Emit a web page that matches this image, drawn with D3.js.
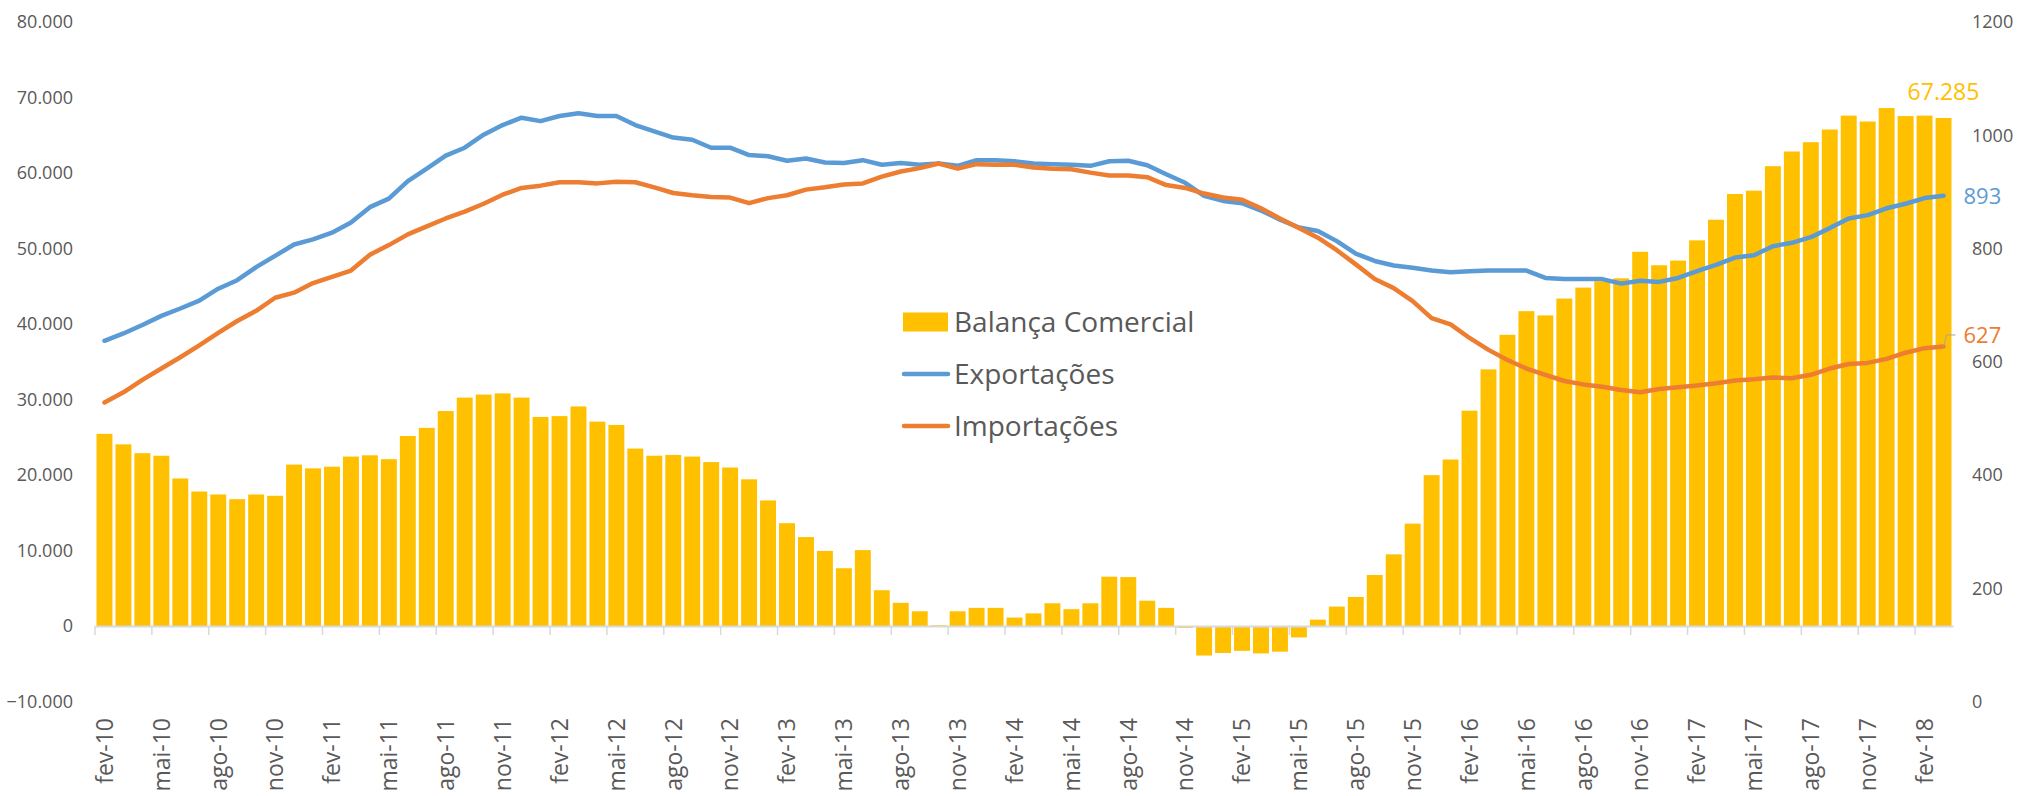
<!DOCTYPE html>
<html>
<head>
<meta charset="utf-8">
<script src="https://cdn.jsdelivr.net/npm/d3@7"></script>
<style>
  body { margin: 0; background: #ffffff; }
  text { font-family: "Open Sans", sans-serif; }
</style>
</head>
<body>
<div id="chart"></div>
<script>
// Categories: monthly, fev-10 to mar-18
const meses = ["jan", "fev", "mar", "abr", "mai", "jun", "jul", "ago", "set", "out", "nov", "dez"];
const categorias = [];
for (let i = 0; i < 98; i++) {
  categorias.push(meses[(1 + i) % 12] + "-" + (10 + Math.floor((1 + i) / 12)));
}

// Balança Comercial (left axis, US$ milhões)
const balanca = [
  25450, 24060, 22890, 22550, 19540, 17810, 17420, 16800, 17420, 17250,
  21380, 20880, 21100, 22440, 22610, 22100, 25170, 26240, 28470, 30250,
  30650, 30810, 30250, 27690, 27800, 29080, 27070, 26630, 23500, 22550,
  22660, 22440, 21710, 20990, 19430, 16630, 13620, 11780, 9940, 7650,
  10050, 4740, 3070, 1950, 100, 1950, 2400, 2400, 1120, 1670,
  3010, 2230, 3010, 6530, 6480, 3350, 2400, -250, -3910, -3570,
  -3290, -3630, -3400, -1510, 840, 2570, 3850, 6750, 9490, 13560,
  19980, 22050, 28520, 33990, 38570, 41700, 41140, 43370, 44820, 45660,
  46050, 49570, 47780, 48400, 51080, 53810, 57220, 57660, 60900, 62850,
  64080, 65760, 67600, 66820, 68600, 67540, 67600, 67285
];

// Exportações (right axis)
const exportacoes = [
  637, 650, 665, 681, 694, 708, 729, 744, 767, 787,
  807, 816, 828, 846, 873, 888, 919, 941, 964, 978,
  1001, 1018, 1031, 1025, 1034, 1039, 1034, 1034, 1018, 1007,
  996, 992, 978, 978, 965, 963, 955, 959, 952, 951,
  956, 948, 951, 948, 950, 946, 956, 956, 954, 950,
  949, 948, 946, 954, 955, 947, 931, 916, 893, 884,
  880, 867, 851, 837, 831, 813, 791, 778, 770, 766,
  761, 758, 760, 761, 761, 761, 748, 746, 746, 746,
  738, 743, 741, 748, 760, 771, 784, 788, 804, 810,
  820, 836, 853, 859, 871, 879, 889, 893
];

// Importações (right axis)
const importacoes = [
  528, 546, 568, 588, 608, 629, 651, 672, 690, 713,
  722, 739, 750, 761, 789, 806, 825, 839, 853, 865,
  879, 895, 907, 911, 917, 917, 915, 918, 917, 908,
  898, 894, 891, 890, 880, 889, 894, 904, 908, 913,
  915, 927, 936, 942, 950, 941, 949, 948, 948, 943,
  941, 940, 934, 929, 929, 926, 912, 907, 897, 890,
  886, 871, 853, 836, 819, 797, 772, 746, 730, 707,
  677, 666, 642, 621, 603, 588, 577, 566, 560, 556,
  550, 546, 552, 555, 558, 562, 567, 569, 572, 571,
  577, 588, 596, 598, 605, 616, 624, 627
];

const ticksEsq = [-10000, 0, 10000, 20000, 30000, 40000, 50000, 60000, 70000, 80000];
const ticksDir = [0, 200, 400, 600, 800, 1000, 1200];
const series = ["Balança Comercial", "Exportações", "Importações"];

const width = 2020, height = 796;
const corBarra = "#FFC000", corExp = "#5B9BD5", corImp = "#ED7D31", corTexto = "#595959";

const svg = d3.select("#chart")
  .append("svg")
  .attr("width", width)
  .attr("height", height);

// Scales
const x = d3.scaleBand()
  .domain(categorias)
  .range([95, 1953])
  .paddingInner(0.16)
  .paddingOuter(0.08);

const yEsq = d3.scaleLinear()
  .domain([-10000, 80000])
  .range([701.5, 22]);

const yDir = d3.scaleLinear()
  .domain([0, 1200])
  .range([701.5, 22]);

const ptBR = d3.formatLocale({ decimal: ",", thousands: ".", grouping: [3], currency: ["R$", ""] });
const fmt = ptBR.format(",.0f");

// Left axis
const eixoEsq = svg.append("g")
  .attr("transform", "translate(73,0)")
  .call(d3.axisLeft(yEsq).tickValues(ticksEsq).tickSize(0).tickPadding(0).tickFormat(fmt));
eixoEsq.select(".domain").remove();
eixoEsq.selectAll("text")
  .attr("font-size", 18)
  .attr("font-family", "'Open Sans', sans-serif")
  .attr("fill", corTexto);

// Right axis
const eixoDir = svg.append("g")
  .attr("transform", "translate(1972,0)")
  .call(d3.axisRight(yDir).tickValues(ticksDir).tickSize(0).tickPadding(0).tickFormat(d3.format("d")));
eixoDir.select(".domain").remove();
eixoDir.selectAll("text")
  .attr("font-size", 18)
  .attr("font-family", "'Open Sans', sans-serif")
  .attr("fill", corTexto);

// Bars
svg.selectAll(".barra")
  .data(balanca)
  .enter()
  .append("rect")
  .attr("class", "barra")
  .attr("x", (d, i) => x(categorias[i]))
  .attr("y", d => yEsq(Math.max(0, d)))
  .attr("width", x.bandwidth())
  .attr("height", d => Math.abs(yEsq(d) - yEsq(0)))
  .attr("fill", corBarra);

// X axis (labels every 3 months)
const labelCats = categorias.filter((c, i) => i % 3 === 0);
const eixoX = svg.append("g")
  .attr("transform", `translate(0, ${yEsq(0)})`)
  .call(d3.axisBottom(x).tickValues(labelCats).tickSize(0).tickSizeOuter(0));
eixoX.select(".domain")
  .attr("stroke", "#D9D9D9")
  .attr("stroke-width", 2);
eixoX.selectAll("text")
  .attr("transform", "rotate(-90)")
  .attr("x", -92)
  .attr("y", 0)
  .attr("dy", "0.36em")
  .attr("text-anchor", "end")
  .attr("font-size", 23)
  .attr("font-family", "'Open Sans', sans-serif")
  .attr("fill", corTexto);

// Tick marks between categories
const meio = x.step() * x.paddingInner() / 2;
svg.selectAll(".tickX")
  .data(labelCats)
  .enter()
  .append("line")
  .attr("class", "tickX")
  .attr("x1", d => x(d) - meio)
  .attr("x2", d => x(d) - meio)
  .attr("y1", yEsq(0))
  .attr("y2", yEsq(0) + 9)
  .attr("stroke", "#D9D9D9")
  .attr("stroke-width", 1.5);

// Lines
const linha = d3.line()
  .x((d, i) => x(categorias[i]) + x.bandwidth() / 2)
  .y(d => yDir(d));

svg.append("path")
  .datum(exportacoes)
  .attr("fill", "none")
  .attr("stroke", corExp)
  .attr("stroke-width", 4.5)
  .attr("stroke-linejoin", "round")
  .attr("stroke-linecap", "round")
  .attr("d", linha);

svg.append("path")
  .datum(importacoes)
  .attr("fill", "none")
  .attr("stroke", corImp)
  .attr("stroke-width", 4.5)
  .attr("stroke-linejoin", "round")
  .attr("stroke-linecap", "round")
  .attr("d", linha);

// Data labels on the last point
const ult = categorias.length - 1;
const xUlt = x(categorias[ult]) + x.bandwidth() / 2;

svg.append("text")
  .attr("x", xUlt)
  .attr("y", yEsq(balanca[ult]) - 18)
  .attr("text-anchor", "middle")
  .attr("font-size", 23)
  .attr("fill", corBarra)
  .text(fmt(balanca[ult]));

svg.append("text")
  .attr("x", xUlt + 20)
  .attr("y", yDir(exportacoes[ult]))
  .attr("dy", "0.36em")
  .attr("font-size", 22)
  .attr("fill", corExp)
  .text(exportacoes[ult]);

svg.append("path")
  .attr("d", `M${xUlt},${yDir(importacoes[ult])}L${xUlt + 3},${yDir(importacoes[ult]) - 11.5}L${xUlt + 12},${yDir(importacoes[ult]) - 11.5}`)
  .attr("fill", "none")
  .attr("stroke", "#A6A6A6")
  .attr("stroke-width", 1);

svg.append("text")
  .attr("x", xUlt + 20)
  .attr("y", yDir(importacoes[ult]) - 11.5)
  .attr("dy", "0.36em")
  .attr("font-size", 22)
  .attr("fill", corImp)
  .text(importacoes[ult]);

// Legend
const legenda = svg.append("g").attr("transform", "translate(903, 322)");

legenda.append("rect")
  .attr("x", 0)
  .attr("y", -9.5)
  .attr("width", 45)
  .attr("height", 19)
  .attr("fill", corBarra);

[corExp, corImp].forEach((cor, i) => {
  legenda.append("line")
    .attr("x1", 1)
    .attr("x2", 45)
    .attr("y1", 52 * (i + 1))
    .attr("y2", 52 * (i + 1))
    .attr("stroke", cor)
    .attr("stroke-width", 4.5)
    .attr("stroke-linecap", "round");
});

series.forEach((nome, i) => {
  legenda.append("text")
    .attr("x", 51)
    .attr("y", 52 * i)
    .attr("dy", "0.36em")
    .attr("font-size", 28)
    .attr("fill", corTexto)
    .text(nome);
});
</script>
</body>
</html>
